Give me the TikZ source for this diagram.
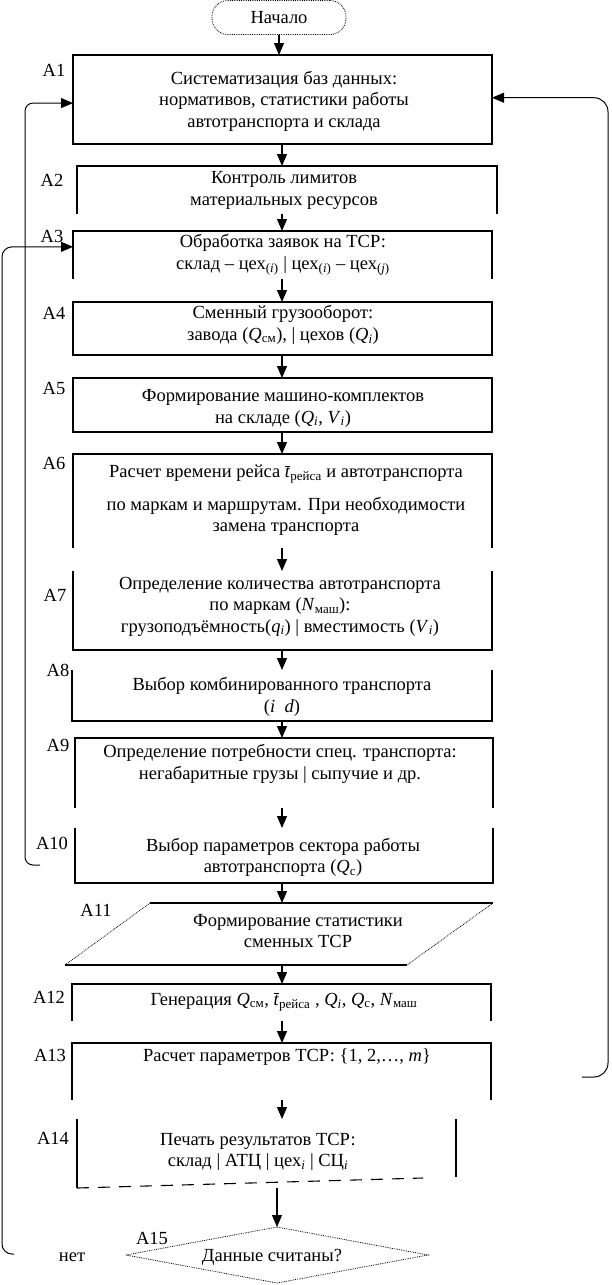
\documentclass[tikz,border=0pt]{standalone}
\usepackage{fontspec}
\setmainfont{Liberation Serif}
\usetikzlibrary{arrows.meta,shapes.geometric,calc}
\newcommand{\myI}[1]{\textit{#1}}
\newcommand{\mySub}[1]{\textsubscript{#1}}
\newcommand{\myTbar}{$\overline{\mbox{\textit{t}}}$}
\begin{document}
\begin{tikzpicture}[x=1pt,y=-1pt,
  hb/.style={rectangle,draw=none,inner sep=0pt,outer sep=0pt},
  edge/.style={line width=1.1pt},
  arr/.style={line width=1.1pt,-{Triangle[length=12pt,width=10pt]}},
  dotline/.style={line width=0.8pt,densely dotted},
  txt/.style={align=center,inner sep=0pt,font=\fontsize{18.5}{21.5}\selectfont},
  lbl/.style={inner sep=0pt,font=\fontsize{18.5}{21.5}\selectfont}]
\useasboundingbox (0,0) rectangle (611,1285);
\fill[white] (0,0) rectangle (611,1285);
\coordinate (mid) at (282,0);
% helper boxes
\node[hb,minimum width=419pt,minimum height=89pt] (a1) at (282.5,99.5) {};
\node[hb,minimum width=420pt,minimum height=48pt] (a2) at (287,190) {};
\node[hb,minimum width=419pt,minimum height=48pt] (a3) at (282.5,255) {};
\node[hb,minimum width=419pt,minimum height=53pt] (a4) at (282.5,328.5) {};
\node[hb,minimum width=419pt,minimum height=54pt] (a5) at (282.5,405) {};
\node[hb,minimum width=419pt,minimum height=94pt] (a6) at (282.5,501) {};
\node[hb,minimum width=419pt,minimum height=79pt] (a7) at (282.5,610.5) {};
\node[hb,minimum width=420pt,minimum height=51pt] (a8) at (282,695.5) {};
\node[hb,minimum width=418pt,minimum height=70pt] (a9) at (284,773) {};
\node[hb,minimum width=418pt,minimum height=55pt] (a10) at (284,855.5) {};
\node[hb,minimum width=428pt,minimum height=62pt] (a11) at (279,934) {};
\node[hb,minimum width=419pt,minimum height=37pt] (a12) at (281.5,1002.5) {};
\node[hb,minimum width=419pt,minimum height=57pt] (a13) at (281.5,1071.5) {};
\node[hb,minimum width=379pt,minimum height=69pt] (a14) at (266.5,1153.5) {};
\node[hb,minimum width=302pt,minimum height=56pt] (a15) at (277,1255) {};
% start
\node[draw,dotline,rounded corners=16pt,minimum width=134pt,minimum height=34pt,inner sep=0pt,txt] (st) at (279,17.5) {Начало};
% outlines
\draw[edge] (a1.north west) rectangle (a1.south east);
\draw[edge] (a2.south west) |- (a2.north east) -- (a2.south east);
\draw[edge] (a3.south west) |- (a3.north east) -- (a3.south east);
\draw[edge] (a4.north west) rectangle (a4.south east);
\draw[edge] (a5.north west) rectangle (a5.south east);
\draw[edge] (a6.south west) |- (a6.north east) -- (a6.south east);
\draw[edge] (a7.north west) |- (a7.south east) -- (a7.north east);
\draw[edge] (a8.north west) |- (a8.south east) -- (a8.north east);
\draw[edge] (a9.south west) |- (a9.north east) -- (a9.south east);
\draw[edge] (a10.north west) |- (a10.south east) -- (a10.north east);
\draw[edge] ($(a11.north west)+(85,0)$) -- (a11.north east);
\draw[edge] (a11.south west) -- ($(a11.south east)+(-86,0)$);
\draw[dotline] ($(a11.north west)+(85,0)$) -- (a11.south west);
\draw[dotline] (a11.north east) -- ($(a11.south east)+(-86,0)$);
\draw[edge] (a12.south west) |- (a12.north east) -- (a12.south east);
\draw[edge] (a13.south west) |- (a13.north east) -- (a13.south east);
\draw[edge] (a14.north west) -- (a14.south west);
\draw[edge] (a14.north east) -- ($(a14.south east)+(0,-11)$);
\draw[edge,dash pattern=on 12pt off 9pt] (a14.south west) -- ($(a14.south east)+(-33,-10)$);
\draw[dotline] (a15.north) -- (a15.east) -- (a15.south) -- (a15.west) -- cycle;
% texts
\node[txt] (t1) at (284,101) {Систематизация баз данных:\\нормативов, статистики работы\\автотранспорта и склада};
\node[txt] (t2) at (284,190.5) {Контроль лимитов\\материальных ресурсов};
\node[txt] (t3) at (283,255) {Обработка заявок на ТСР:\\склад – цех\mySub{(\myI{i})} | цех\mySub{(\myI{i})} – цех\mySub{(\myI{j})}};
\node[txt] (t4) at (283,325) {Сменный грузооборот:\\завода (\myI{Q}\mySub{см}), | цехов (\myI{Q}\mySub{\myI{i}})};
\node[txt] (t5) at (283,408.5) {Формирование машино-комплектов\\на складе (\myI{Q}\mySub{\myI{i}}, \myI{V}\mySub{\myI{i}})};
\node[txt] (t6) at (286,500.5) {Расчет времени рейса \myTbar\mySub{рейса} и автотранспорта\\[11pt]по маркам и маршрутам. При необходимости\\замена транспорта};
\node[txt] (t7) at (280,606.5) {Определение количества автотранспорта\\по маркам (\myI{N}\mySub{маш}):\\грузоподъёмность(\myI{q}\mySub{\myI{i}}) | вместимость (\myI{V}\mySub{\myI{i}})};
\node[txt] (t8) at (282,697) {Выбор комбинированного транспорта\\(\myI{i}\ \ \myI{d})};
\node[txt] (t9) at (280,764) {Определение потребности спец. транспорта:\\негабаритные грузы | сыпучие и др.};
\node[txt] (t10) at (283,857.5) {Выбор параметров сектора работы\\автотранспорта (\myI{Q}\mySub{c})};
\node[txt] (t11) at (298,931) {Формирование статистики\\сменных ТСР};
\node[txt] (t12) at (284,1002) {Генерация \myI{Q}\mySub{см}, \myTbar\mySub{рейса} , \myI{Q}\mySub{\myI{i}}, \myI{Q}\mySub{c}, \myI{N}\mySub{маш}};
\node[txt] (t13) at (287,1057) {Расчет параметров ТСР: \{1, 2,…, \myI{m}\}};
\node[txt] (t14) at (258,1152) {Печать результатов ТСР:\\склад | АТЦ | цех\mySub{\myI{i}} | СЦ\mySub{\myI{i}}};
\node[txt] (t15) at (272,1257) {Данные считаны?};
% labels
\node[lbl] (l1) at (54,70) {A1};
\node[lbl] (l2) at (52,180) {A2};
\node[lbl] (l3) at (52,236) {A3};
\node[lbl] (l4) at (54,313) {A4};
\node[lbl] (l5) at (54,388) {A5};
\node[lbl] (l6) at (54,463) {A6};
\node[lbl] (l7) at (55,595) {A7};
\node[lbl] (l8) at (58,670) {A8};
\node[lbl] (l9) at (58,745) {A9};
\node[lbl] (l10) at (52,843) {A10};
\node[lbl] (l11) at (96,910) {A11};
\node[lbl] (l12) at (49,997) {A12};
\node[lbl] (l13) at (50,1055) {A13};
\node[lbl] (l14) at (53,1138) {A14};
\node[lbl] (l15) at (152,1238) {A15};
\node[lbl] (no) at (72,1257) {нет};
% flow arrows
\draw[arr] (st.south) -- (st.south |- a1.north);
\draw[arr] (a1.south -| mid) -- (a2.north -| mid);
\draw[arr] (a2.south -| mid) -- (a3.north -| mid);
\draw[arr] (a3.south -| mid) -- (a4.north -| mid);
\draw[arr] (a4.south -| mid) -- (a5.north -| mid);
\draw[arr] (a5.south -| mid) -- (a6.north -| mid);
\draw[arr] (a6.south -| mid) -- (a7.north -| mid);
\draw[arr] (a7.south -| mid) -- (a8.north -| mid);
\draw[arr] (a8.south -| mid) -- (a9.north -| mid);
\draw[arr] (a9.south -| mid) -- (a10.north -| mid);
\draw[arr] (a10.south -| mid) -- (a11.north -| mid);
\draw[arr] (a11.south -| mid) -- (a12.north -| mid);
\draw[arr] (a12.south -| mid) -- (a13.north -| mid);
\draw[arr] (a13.south -| mid) -- (a14.north -| mid);
\draw[arr] (a14.south -| a15.north) -- (a15.north);
% loops
\coordinate (lend) at (40,865);
\draw[arr,line width=1pt,rounded corners=8pt] (lend) -- (25,865) |- ($(a1.north west)!0.54!(a1.south west)$);
\coordinate (nend) at (14,1254);
\draw[arr,line width=1pt,rounded corners=10pt] (nend) -- (2,1254) |- ($(a3.north west)!0.33!(a3.south west)$);
\coordinate (rend) at (582,1077);
\draw[arr,line width=1pt,rounded corners=14pt] (rend) -- (608,1077) |- ($(a1.north east)!0.48!(a1.south east)$);
\end{tikzpicture}
\end{document}
